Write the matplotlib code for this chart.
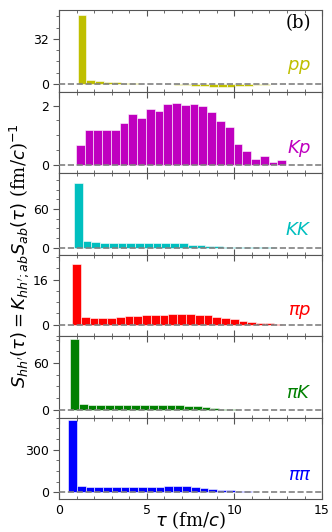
import matplotlib
matplotlib.use('Agg')
import matplotlib.pyplot as plt
import numpy as np
from matplotlib.ticker import MultipleLocator

# tau bins (fm/c): left edge of first bin for each pair, common width
bin_width = 0.5
first_edge = [1.05, 0.95, 0.84, 0.74, 0.63, 0.51]

pair_labels = [r'$pp$', r'$Kp$', r'$KK$', r'$\pi p$', r'$\pi K$', r'$\pi\pi$']
pair_colors = ['y', 'm', 'c', 'r', 'g', 'b']

pp = [49, 2.8, 1.9, 1.4, 1.0, 0.6, 0.3, 0.1, 0.0, -0.1, -0.4, -0.7,
      -1.2, -1.5, -1.9, -2.1, -2.1, -2.0, -1.8, -1.5, -1.1, -0.7, -0.4, -0.1]
Kp = [0.66, 1.17, 1.17, 1.17, 1.17, 1.43, 1.71, 1.59, 1.88, 1.82, 2.06, 2.09,
      2.02, 2.04, 2.0, 1.78, 1.48, 1.29, 0.71, 0.48, 0.22, 0.31, 0.1, 0.18]
KK = [100.7, 10.2, 8.2, 7.4, 7.2, 7.1, 7.1, 7.0, 7.0, 7.0, 6.9, 6.8,
      6.5, 4.6, 3.8, 2.8, 1.8, 1.1, 0.6, 0.3, 0.2, 0.1, 0.05, 0.0]
pip = [21.6, 2.9, 2.5, 2.5, 2.5, 2.7, 3.1, 3.1, 3.3, 3.5, 3.6, 3.8,
       3.8, 3.8, 3.6, 3.3, 2.9, 2.4, 1.9, 1.4, 1.1, 0.8, 0.5, 0.3]
piK = [90.4, 8.1, 6.4, 6.0, 5.8, 5.8, 5.8, 5.8, 5.8, 5.8, 5.8, 5.8,
       5.8, 5.5, 4.3, 3.0, 2.1, 1.3, 0.7, 0.4, 0.2, 0.1, 0.1, 0.05]
pipi = [508, 45, 35, 35, 35, 35, 35, 38, 38, 40, 40, 42,
        45, 45, 40, 33, 26, 19, 14, 9.5, 7, 5, 2.4, 1]

series = [pp, Kp, KK, pip, piK, pipi]
ylims = [(-5.6, 52.5), (-0.27, 2.47), (-11, 116), (-4.0, 24.9), (-9.9, 94.7), (-47, 527)]
ymajor = [32, 2, 60, 16, 60, 300]

fig, axes = plt.subplots(6, 1, figsize=(3.32, 5.32), dpi=100, sharex=True)
fig.subplots_adjust(left=0.178, right=0.970, top=0.981, bottom=0.062, hspace=0)

spine_col = '#555555'
for ax, vals, x0, lab, col, yl, step in zip(axes, series, first_edge, pair_labels,
                                            pair_colors, ylims, ymajor):
    x = x0 + np.arange(len(vals)) * bin_width
    ax.bar(x, vals, width=bin_width, align='edge', color=col,
           edgecolor='white', linewidth=0.4)
    ax.axhline(0, color='gray', ls='--', lw=1.2, zorder=3)
    ax.set_xlim(0, 15)
    ax.set_ylim(*yl)
    ax.set_yticks([0, step])
    ax.yaxis.set_minor_locator(MultipleLocator(step / 4))
    ax.xaxis.set_major_locator(MultipleLocator(5))
    ax.xaxis.set_minor_locator(MultipleLocator(1))
    ax.tick_params(axis='x', which='both', direction='in', top=True, bottom=True,
                   color=spine_col, labelsize=9)
    ax.tick_params(axis='x', which='major', length=4)
    ax.tick_params(axis='x', which='minor', length=2.5)
    ax.tick_params(axis='y', which='both', direction='out', color=spine_col, labelsize=9)
    ax.tick_params(axis='y', which='major', length=4)
    ax.tick_params(axis='y', which='minor', length=2)
    for s in ax.spines.values():
        s.set_color(spine_col)
    ax.text(0.96, 0.3, lab, transform=ax.transAxes, ha='right', va='center',
            color=col, fontsize=13)

axes[0].text(0.96, 0.84, '(b)', transform=axes[0].transAxes, ha='right', va='center',
             fontsize=13, family='DejaVu Serif')
axes[-1].set_xlabel(r'$\tau$ (fm/$c$)', fontsize=13, family='DejaVu Serif')
axes[-1].xaxis.set_label_coords(0.5, -0.13)
fig.text(0.058, 0.52, r"$S_{hh'}(\tau) = K_{hh';ab}S_{ab}(\tau)$ (fm/$c$)$^{-1}$",
         rotation=90, ha='center', va='center', fontsize=13, family='DejaVu Serif')

fig.savefig('out.png', dpi=100)
